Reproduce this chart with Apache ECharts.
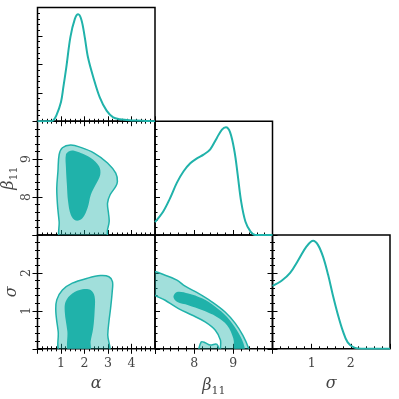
<!DOCTYPE html>
<html>
<head>
<meta charset="utf-8">
<script src="https://cdn.jsdelivr.net/npm/echarts@6/dist/echarts.min.js"></script>
<style>
  html, body { margin: 0; padding: 0; background: #fff; }
  #chart { width: 399px; height: 399px; }
</style>
</head>
<body>
<div id="chart"></div>
<script>
  // 1D marginals (x, density)
  const alphaKde = [[0, 0], [0.5, 0], [0.65, 0.005], [0.8, 0.05], [1.0, 0.17], [1.1, 0.3], [1.23, 0.48], [1.4, 0.74], [1.59, 0.9], [1.73, 0.94], [1.87, 0.89], [2.01, 0.74], [2.15, 0.56], [2.37, 0.39], [2.65, 0.21], [2.94, 0.094], [3.22, 0.035], [3.5, 0.018], [3.8, 0.012], [4.2, 0.006], [4.6, 0.003], [5, 0]]
  const betaKde = [[7.0, 0.17], [7.21, 0.31], [7.38, 0.48], [7.56, 0.69], [7.73, 0.84], [7.9, 0.945], [8.07, 1.01], [8.24, 1.06], [8.41, 1.13], [8.58, 1.28], [8.71, 1.39], [8.81, 1.42], [8.92, 1.35], [9.03, 1.1], [9.11, 0.8], [9.2, 0.44], [9.31, 0.175], [9.44, 0.045], [9.56, 0.0], [10, 0]]
  const sigmaKde = [[0, 0.83], [0.24, 0.9], [0.45, 1.0], [0.66, 1.17], [0.87, 1.35], [1.04, 1.425], [1.16, 1.37], [1.29, 1.215], [1.42, 0.975], [1.54, 0.71], [1.67, 0.45], [1.8, 0.23], [1.92, 0.084], [2.09, 0.015], [2.34, 0], [3, 0]]

  // 2D contours (outer = 95%, inner = 68%)
  const alphaBetaOuter = [[1.06, 9.30], [1.41, 9.37], [1.84, 9.31], [2.41, 9.16], [2.98, 8.90], [3.33, 8.63], [3.40, 8.41], [3.33, 8.28], [3.09, 8.06], [2.98, 7.84], [3.02, 7.58], [3.05, 7.36], [2.98, 7.14], [2.9, 6.9], [1.0, 6.9], [0.92, 7.36], [0.85, 7.80], [0.82, 8.24], [0.87, 8.68], [0.92, 9.12]]
  const alphaBetaInner = [[1.21, 9.12], [1.35, 9.21], [1.56, 9.22], [1.84, 9.16], [2.27, 9.03], [2.62, 8.81], [2.67, 8.59], [2.48, 8.33], [2.27, 8.06], [2.13, 7.71], [1.91, 7.44], [1.63, 7.38], [1.42, 7.53], [1.30, 7.89], [1.25, 8.33], [1.21, 8.77]]
  const alphaSigmaOuter = [[0.99, -0.1], [0.88, 0.46], [0.78, 0.98], [0.82, 1.29], [1.06, 1.55], [1.48, 1.73], [2.12, 1.86], [2.68, 1.93], [3.04, 1.90], [3.19, 1.77], [3.18, 1.51], [3.11, 1.07], [3.04, 0.72], [2.99, 0.37], [3.01, -0.1]]
  const alphaSigmaInner = [[1.34, -0.1], [1.27, 0.46], [1.16, 0.98], [1.20, 1.25], [1.48, 1.46], [1.91, 1.57], [2.26, 1.55], [2.43, 1.38], [2.43, 0.98], [2.37, 0.54], [2.26, 0.19], [2.23, -0.1]]
  const betaSigmaOuter = [[6.9, 2.03], [7.26, 1.94], [7.56, 1.81], [7.77, 1.65], [8.11, 1.46], [8.45, 1.24], [8.79, 0.97], [9.05, 0.67], [9.24, 0.36], [9.38, 0.04], [9.4, -0.1], [8.71, -0.1], [8.67, 0.23], [8.54, 0.49], [8.28, 0.71], [7.94, 0.89], [7.60, 1.06], [7.26, 1.28], [6.9, 1.5]]
  const betaSigmaIsland = [[8.14, -0.1], [8.18, 0.18], [8.28, 0.16], [8.41, 0.1], [8.58, 0.12], [8.62, -0.1]]
  const betaSigmaInner = [[7.47, 1.37], [7.56, 1.50], [7.85, 1.46], [8.20, 1.33], [8.54, 1.11], [8.84, 0.84], [9.09, 0.49], [9.26, 0.14], [9.28, -0.1], [9.05, -0.1], [9.0, 0.27], [8.84, 0.62], [8.58, 0.84], [8.20, 1.02], [7.85, 1.15], [7.56, 1.24]]

  // axis ranges and tick labels
  const alphaRange = [0, 5]
  const betaRange = [7, 10]
  const sigmaRange = [0, 3]
  const alphaTicks = [1, 2, 3, 4]
  const betaTicks = [8, 9]
  const sigmaTicks = [1, 2]

  const TEAL = '#20b2aa'
  const LIGHT = 'rgba(32,178,170,0.42)'
  const FONT = 'DejaVu Serif'
  const TXT = '#444'

  const colLeft = [37.5, 155, 272.5]
  const rowTop = [7.5, 121.2, 235]
  const W = 117.5
  const H = 113.8

  const xDefs = [
    { range: alphaRange, ticks: alphaTicks, name: 'α' },
    { range: betaRange, ticks: betaTicks, name: '{b|β}{s|11}' },
    { range: sigmaRange, ticks: sigmaTicks, name: 'σ' },
  ]
  const nameRich = {
    b: { fontFamily: FONT, fontStyle: 'italic', fontSize: 16, color: TXT },
    s: { fontFamily: FONT, fontStyle: 'normal', fontSize: 11, color: TXT, padding: [10, 0, 0, 0] },
  }

  // panels: row, col, diag y max / y def
  const panels = [
    { r: 0, c: 0, diag: true, ymax: 1, yint: 0.25, line: alphaKde },
    { r: 1, c: 0, yd: 1, polys: [[alphaBetaOuter, 'o'], [alphaBetaInner, 'i']] },
    { r: 1, c: 1, diag: true, ymax: 1.5, yint: 0.5, line: betaKde },
    { r: 2, c: 0, yd: 2, polys: [[alphaSigmaOuter, 'o'], [alphaSigmaInner, 'i']] },
    { r: 2, c: 1, yd: 2, polys: [[betaSigmaOuter, 'o'], [betaSigmaIsland, 'o'], [betaSigmaInner, 'i']] },
    { r: 2, c: 2, diag: true, ymax: 1.5, yint: 0.5, line: sigmaKde },
  ]

  function tickStyle(show) {
    return {
      axisLine: { show: false },
      axisTick: { show: show, inside: true, length: 5, lineStyle: { color: '#000', width: 1 } },
      minorTick: { show: show, splitNumber: 5, length: 2.5, lineStyle: { color: '#000', width: 1 } },
      splitLine: { show: false },
    }
  }

  const grid = []
  const xAxis = []
  const yAxis = []
  const series = []

  panels.forEach((p, i) => {
    grid.push({
      left: colLeft[p.c], top: rowTop[p.r], width: W, height: H,
      show: true, borderColor: '#000', borderWidth: 1.5, backgroundColor: 'transparent',
    })
    const xd = xDefs[p.c]
    const showX = p.r === 2
    xAxis.push(Object.assign({
      type: 'value', gridIndex: i, min: xd.range[0], max: xd.range[1], interval: 1, position: 'bottom',
      name: showX ? xd.name : '', nameLocation: 'middle', nameGap: 27,
      nameTextStyle: { fontFamily: FONT, fontStyle: 'italic', fontSize: 16, color: TXT, rich: nameRich },
      axisLabel: {
        show: showX, fontFamily: FONT, fontSize: 12.5, color: TXT, margin: 8,
        formatter: (v) => (xd.ticks.indexOf(v) >= 0 ? String(v) : ''),
      },
    }, tickStyle(true)))
    if (p.diag) {
      yAxis.push(Object.assign({
        type: 'value', gridIndex: i, min: 0, max: p.ymax, interval: p.yint, position: 'left',
        axisLabel: { show: false },
      }, tickStyle(true)))
    } else {
      const yd = xDefs[p.yd]
      const showY = p.c === 0
      yAxis.push(Object.assign({
        type: 'value', gridIndex: i, min: yd.range[0], max: yd.range[1], interval: 1, position: 'left',
        name: showY ? yd.name : '', nameLocation: 'middle', nameGap: 9, nameRotate: 90,
        nameTextStyle: { fontFamily: FONT, fontStyle: 'italic', fontSize: 16, color: TXT, rich: nameRich },
        axisLabel: {
          show: showY, fontFamily: FONT, fontSize: 12.5, color: TXT, rotate: 90, margin: 4,
          formatter: (v) => (yd.ticks.indexOf(v) >= 0 ? String(v) : ''),
        },
      }, tickStyle(true)))
    }
  })

  // mirrored ticks on top / right for 2D panels
  panels.forEach((p, i) => {
    const xd = xDefs[p.c]
    xAxis.push(Object.assign({
      type: 'value', gridIndex: i, min: xd.range[0], max: xd.range[1], interval: 1, position: 'top',
      axisLabel: { show: false },
    }, tickStyle(!p.diag)))
    const yr = p.diag ? [0, p.ymax] : xDefs[p.yd].range
    yAxis.push(Object.assign({
      type: 'value', gridIndex: i, min: yr[0], max: yr[1], interval: p.diag ? p.yint : 1, position: 'right',
      axisLabel: { show: false },
    }, tickStyle(!p.diag)))
  })

  function polygonSeries(i, pts, kind) {
    return {
      type: 'custom', xAxisIndex: i, yAxisIndex: i, silent: true,
      data: pts,
      renderItem: (params, api) => {
        if (params.dataIndex !== 0) return null
        const cs = params.coordSys
        return {
          type: 'group',
          clipPath: { type: 'rect', shape: { x: cs.x, y: cs.y, width: cs.width, height: cs.height } },
          children: [{
            type: 'polygon',
            shape: { points: pts.map((pt) => api.coord(pt)), smooth: 0.35 },
            style: kind === 'o'
              ? { fill: LIGHT, stroke: TEAL, lineWidth: 1.5 }
              : { fill: TEAL, stroke: null },
          }],
        }
      },
    }
  }

  panels.forEach((p, i) => {
    if (p.diag) {
      series.push({
        type: 'line', xAxisIndex: i, yAxisIndex: i, data: p.line, smooth: 0.35,
        showSymbol: false, silent: true, clip: true,
        lineStyle: { color: TEAL, width: 2 },
      })
    } else {
      p.polys.forEach(([pts, kind]) => series.push(polygonSeries(i, pts, kind)))
    }
  })

  const chart = echarts.init(document.getElementById('chart'), null, { renderer: 'canvas' })
  chart.setOption({
    animation: false,
    backgroundColor: '#fff',
    grid, xAxis, yAxis, series,
  })
</script>
</body>
</html>
